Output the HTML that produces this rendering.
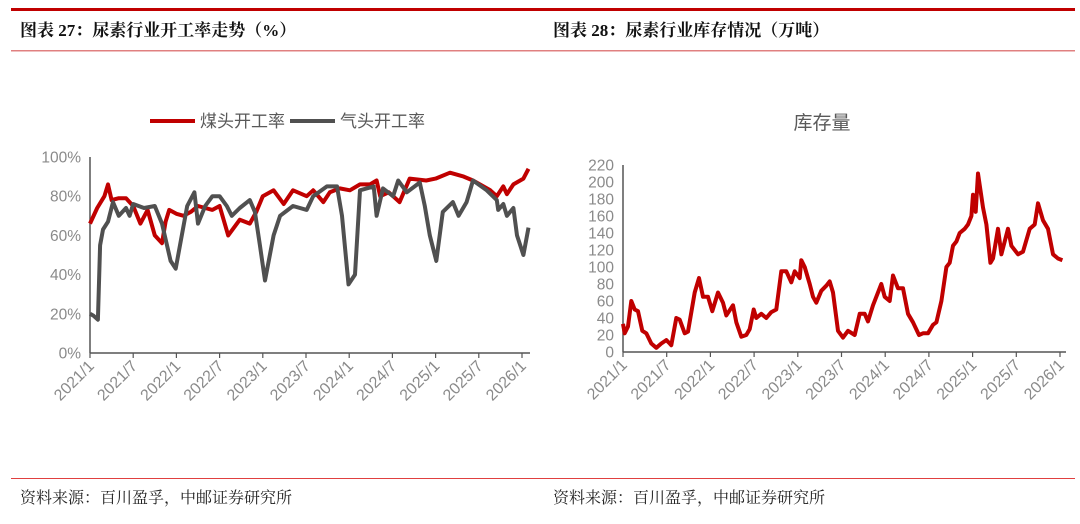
<!DOCTYPE html>
<html><head><meta charset="utf-8"><style>
html,body{margin:0;padding:0;background:#fff;}
svg{display:block;font-family:"Liberation Sans","Noto Sans CJK SC",sans-serif;}
.ttl{font-family:"Liberation Serif","Noto Serif CJK SC",serif;font-weight:bold;font-size:17px;fill:#111;}
.src{font-family:"Liberation Serif","Noto Serif CJK SC",serif;font-size:16px;fill:#222;}
.tk{font-size:15.5px;fill:#8a8a8a;}
.xk{font-size:16px;fill:#8a8a8a;}
</style></head><body>
<svg id="s" width="1080" height="524" viewBox="0 0 1080 524">
<rect x="11" y="8" width="1064" height="3" fill="#c00000"/>
<text class="ttl" x="20" y="36">图表 27：尿素行业开工率走势（%）</text>
<text class="ttl" x="553" y="36">图表 28：尿素行业库存情况（万吨）</text>
<rect x="11" y="50" width="1064" height="1.5" fill="#e08080"/>
<rect x="11" y="478" width="1064" height="1" fill="#e04040"/>
<text class="src" x="20" y="503">资料来源：百川盈孚，中邮证券研究所</text>
<text class="src" x="553" y="503">资料来源：百川盈孚，中邮证券研究所</text>
<g id="L"></g>
<g id="R"></g>
</svg>
<script>
const xLabels=["2021/1","2021/7","2022/1","2022/7","2023/1","2023/7","2024/1","2024/7","2025/1","2025/7","2026/1"];
const leftTicks=["0%","20%","40%","60%","80%","100%"];
const rightTicks=["0","20","40","60","80","100","120","140","160","180","200","220"];
const coalMonths=[0,1,2,2.5,3,4,5,6,7,8,9,10,10.5,11,12,13,14,15,16,17,18,19.2,20.8,22.2,23.1,24,25.5,26.9,28.2,30.1,31,32.4,33.3,34.7,36.1,37.5,38.9,39.8,40.3,41.5,43,44.4,46.7,48,50,51.9,53.2,55.6,56.5,57.4,57.9,58.8,60.2,60.9];
const coalRate=[66,74,80,86,78,79,79,75,66,73,60,56,67,73,71,70,72,75,74,73,75,60,68,66,72,80,83,76,83,80,83,77,82,84,83,86,86,88,80,82,77,89,88,89,92,90,88,83,80,85,81,86,89,94];
const gasMonths=[0,0.5,1.1,1.4,1.8,2.5,3.2,4,5,5.5,6,7.5,9,10,11.2,11.9,12.5,13.5,14.5,15,16,17,18,19,19.7,20.8,22.2,22.9,23.6,24.3,25.5,26.4,28.2,30.1,31,32.9,34.3,35,35.9,36.8,37.5,39.4,39.8,40.7,42.1,42.8,44,45.8,46.5,47.2,48.1,49,50.4,51.2,52.3,53.2,55.1,56.5,56.7,57.4,57.9,58.8,59.3,60.2,60.9];
const gasRate=[20,19,17,55,63,67,77,70,74,70,76,74,75,66,47,43,55,75,82,66,75,80,80,75,70,74,78,72,55,37,60,70,75,73,80,85,85,70,35,40,83,85,70,84,80,88,82,87,75,60,47,72,77,70,77,88,83,78,73,76,70,74,60,50,64];
const stockX=[160,165,175,185,195,205,218,230,245,260,275,290,300,305,320,330,345,355,375,388,400,415,428,445,460,470,485,490,500,515,530,540,552,560,575,590,605,620,635,650,665,675,690,695,705,720,730,740,755,770,780,790,805,820,835,855,870,885,895,910,935,945,960,970,985,1000,1015,1030,1048,1060,1075,1090,1100,1115,1130,1140,1150,1160,1170,1185,1195,1205,1210,1218,1225,1240,1250,1262,1270,1285,1295,1315,1325,1345,1360,1380,1395,1405,1420,1435,1450,1465,1478];
const stockMonths=stockX.map(v=>(v/3-53.33)/7.283);
const stockVal=[33,22,30,60,50,48,25,22,10,5,10,14,10,8,40,38,22,24,70,87,65,65,48,70,58,43,52,55,35,18,20,27,50,40,45,40,47,50,95,95,82,95,87,108,100,80,65,58,72,78,83,70,25,17,25,20,45,45,36,55,80,65,60,90,75,75,45,35,20,22,22,32,35,60,100,105,125,130,140,145,150,160,185,165,210,170,150,105,110,145,115,145,125,115,118,145,150,175,155,145,115,110,108];
const NS="http://www.w3.org/2000/svg";
function mk(p,t,a){const e=document.createElementNS(NS,t);for(const k in a)e.setAttribute(k,a[k]);p.appendChild(e);return e;}
function axes(g,x0,x1,yB,yT,ticks,tickMax,halfW,prefix){
  const y=v=>yB-(v/tickMax)*(yB-yT);
  const ax=mk(g,'line',{x1:x0,y1:yT,x2:x0,y2:yB,stroke:'#555','stroke-width':1.5});
  
  
  const bx=mk(g,'line',{x1:x0,y1:yB,x2:x1,y2:yB,stroke:'#555','stroke-width':1.5});
  
  
  ticks.forEach((t,i)=>{const v=i*tickMax/(ticks.length-1);
    const tx=mk(g,'text',{x:x0-9,y:y(v)+5.5,'text-anchor':'end',class:'tk'});tx.textContent=t;
    
    });
  xLabels.forEach((t,i)=>{const xx=x0+i*halfW;
    const tl=mk(g,'line',{x1:xx,y1:yB,x2:xx,y2:yB+5,stroke:'#555','stroke-width':1.2});
    
    
    const tx=mk(g,'text',{x:xx+5,y:yB+14,'text-anchor':'end',class:'xk',transform:`rotate(-45 ${xx+5} ${yB+14})`});tx.textContent=t;
    
    });
  return y;
}
function line(g,ms,vs,x0,halfW,y,color,name){
  const d=ms.map((m,i)=>(i?'L':'M')+(x0+m/6*halfW).toFixed(1)+','+y(vs[i]).toFixed(1)).join('');
  const p=mk(g,'path',{d:d,fill:'none',stroke:color,'stroke-width':4,'stroke-linejoin':'round'});
  
  
}
// left
const L=document.getElementById('L');
const yL=axes(L,90,530,353,157,leftTicks,100,43.2,'left');
line(L,coalMonths,coalRate,90,43.2,yL,'#c00000','coal-head-rate-line');
line(L,gasMonths,gasRate,90,43.2,yL,'#505050','gas-head-rate-line');
[[150,'#c00000','煤头开工率','legend-coal'],[290,'#505050','气头开工率','legend-gas']].forEach(([x,c,t,n])=>{
  const l=mk(L,'line',{x1:x,y1:121,x2:x+45,y2:121,stroke:c,'stroke-width':4});
  
  
  const tx=mk(L,'text',{x:x+50,y:127,style:'font-size:17px;fill:#595959'});tx.textContent=t;
  
  
});
// right
const R=document.getElementById('R');
const yR=axes(R,623,1066,352,165,rightTicks,220,43.7,'right');
line(R,stockMonths,stockVal,623,43.7,yR,'#c00000','inventory-line');
const rt=mk(R,'text',{x:822,y:129,'text-anchor':'middle',style:'font-size:19px;fill:#595959'});rt.textContent='库存量';


</script>
</body></html>
